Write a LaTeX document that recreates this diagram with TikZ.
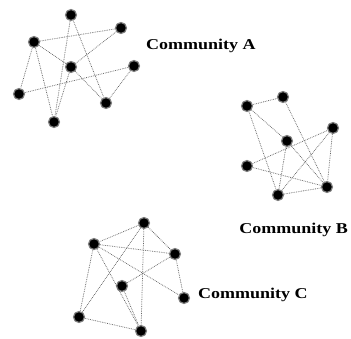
\documentclass[tikz,border=0pt]{standalone}
\usepackage{fontspec}
\setmainfont[FakeStretch=1.2]{Liberation Serif}
\begin{document}
\begin{tikzpicture}[x=1pt,y=-1pt,
  vtx/.style={circle,fill=black,inner sep=0pt,minimum size=11pt,draw=black!50,line width=1.2pt},
  lnk/.style={densely dotted,black!60,line width=0.75pt},
  lbl/.style={font=\bfseries\fontsize{15}{18}\selectfont,inner sep=0pt}]
\useasboundingbox (0,0) rectangle (351,339);
% Community A
\node[vtx] (a1) at (71,15) {};
\node[vtx] (a2) at (121,28) {};
\node[vtx] (a3) at (34,42) {};
\node[vtx] (a4) at (71,67) {};
\node[vtx] (a5) at (134,66) {};
\node[vtx] (a6) at (19,94) {};
\node[vtx] (a7) at (106,103) {};
\node[vtx] (a8) at (54,122) {};
\draw[lnk] (a3) -- (a2);
\draw[lnk] (a1) -- (a7);
\draw[lnk] (a1) -- (a8);
\draw[lnk] (a3) -- (a4);
\draw[lnk] (a4) -- (a7);
\draw[lnk] (a2) -- (a4);
\draw[lnk] (a4) -- (a8);
\draw[lnk] (a3) -- (a8);
\draw[lnk] (a3) -- (a6);
\draw[lnk] (a6) -- (a5);
\draw[lnk] (a5) -- (a7);
% Community B
\node[vtx] (b1) at (247,106) {};
\node[vtx] (b2) at (283,97) {};
\node[vtx] (b3) at (333,128) {};
\node[vtx] (b4) at (287,141) {};
\node[vtx] (b5) at (247,166) {};
\node[vtx] (b6) at (327,187) {};
\node[vtx] (b7) at (278,195) {};
\draw[lnk] (b1) -- (b2);
\draw[lnk] (b1) -- (b4);
\draw[lnk] (b1) -- (b7);
\draw[lnk] (b2) -- (b6);
\draw[lnk] (b5) -- (b3);
\draw[lnk] (b5) -- (b6);
\draw[lnk] (b3) -- (b6);
\draw[lnk] (b3) -- (b7);
\draw[lnk] (b4) -- (b7);
\draw[lnk] (b4) -- (b6);
\draw[lnk] (b7) -- (b6);
% Community C
\node[vtx] (c1) at (144,223) {};
\node[vtx] (c2) at (94,244) {};
\node[vtx] (c3) at (175,254) {};
\node[vtx] (c4) at (122,286) {};
\node[vtx] (c5) at (184,298) {};
\node[vtx] (c6) at (79,317) {};
\node[vtx] (c7) at (141,331) {};
\draw[lnk] (c1) -- (c2);
\draw[lnk] (c1) -- (c3);
\draw[lnk] (c1) -- (c7);
\draw[lnk] (c1) -- (c6);
\draw[lnk] (c2) -- (c3);
\draw[lnk] (c2) -- (c5);
\draw[lnk] (c2) -- (c6);
\draw[lnk] (c2) -- (c7);
\draw[lnk] (c3) -- (c4);
\draw[lnk] (c3) -- (c5);
\draw[lnk] (c4) -- (c7);
\draw[lnk] (c6) -- (c7);
% Labels
\node[lbl,anchor=base west] (la) at (146,50) {Community A};
\node[lbl,anchor=base east] (lb) at (348,234) {Community B};
\node[lbl,anchor=base west] (lc) at (198,299) {Community C};
\end{tikzpicture}
\end{document}
